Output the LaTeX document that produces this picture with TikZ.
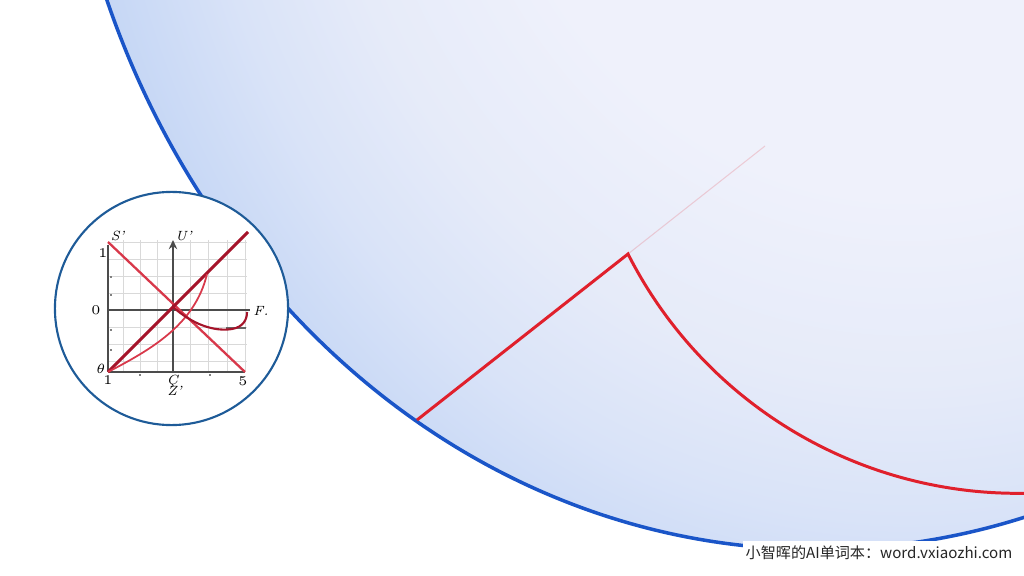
\RequirePackage{fix-cm}
\documentclass[tikz,border=0pt]{standalone}
\usepackage{fontspec}
\usepackage{tikz}
\usetikzlibrary{arrows.meta}
\newfontfamily\cjk{Noto Sans CJK SC}

\definecolor{glowin}{HTML}{EFF1FB}
\definecolor{glowmid}{HTML}{E6EBF9}
\definecolor{glowout}{HTML}{D9E3F8}
\definecolor{glowedge}{HTML}{C6D7F5}
\definecolor{rimblue}{HTML}{1A55C8}
\definecolor{lensrim}{HTML}{1E5B98}
\definecolor{arcred}{HTML}{E0202C}
\definecolor{plotred}{HTML}{D8384A}
\definecolor{plotdark}{HTML}{A5142A}
% path box is mapped on the 25bp radius; glow shape is 1.15x the disc
\pgfdeclareradialshading{bigglow}{\pgfpointorigin}{color(0bp)=(glowin); color(12.2bp)=(glowin); color(17bp)=(glowmid); color(20.5bp)=(glowout); color(24bp)=(glowedge); color(50bp)=(glowedge)}

\begin{document}
\begin{tikzpicture}[x=0.01cm,y=-0.01cm,
  rim/.style={draw=rimblue,line width=1pt},
  redline/.style={draw=arcred,line width=0.85pt},
  gridline/.style={gray!30,line width=0.2pt},
  axisline/.style={black!70,line width=0.4pt},
  lbl/.style={font=\fontsize{3.8}{4.5}\selectfont,inner sep=0pt}]
  % 1 unit = 1px of the 1024x576 frame, y downwards
  \useasboundingbox (0,0) rectangle (1024,576);
  \clip (0,0) rectangle (1024,576);
  \fill[white] (0,0) rectangle (1024,576);
  % big disc, glow pushed to the lower left rim
  \coordinate (BC) at (817,-307);
  \begin{scope}
    \clip (BC) ellipse [x radius=7.6cm,y radius=8.56cm];
    \shade[shading=bigglow] ([shift={(90,20)}]BC) ellipse [x radius=8.74cm,y radius=9.84cm];
  \end{scope}
  \draw[rim] (BC) ellipse [x radius=7.6cm,y radius=8.56cm];
  % the angle: chord, faint extension, arc
  \coordinate (V) at (628,254);
  \coordinate (P) at (417,420);
  \coordinate (Q) at (765,146);
  \coordinate (AC) at (1018,56);   % centre of the red arc
  \draw[arcred,opacity=0.18,line width=0.3pt] (V) -- (Q);
  \draw[redline,line join=miter] (P) -- (V) arc[start angle=153.1,end angle=80,radius=437];
  % inset lens with the little chart
  \coordinate (LC) at (171.5,308.5);
  \draw[draw=lensrim,fill=white,line width=0.6pt] (LC) circle[radius=1.165cm];
  \foreach \gx in {123,140,157,190,208,227,245} \draw[gridline] (\gx,240) -- (\gx,372);
  \foreach \gy in {242,259,276,293,327,344,361} \draw[gridline] (108,\gy) -- (247,\gy);
  \draw[axisline] (108,372) -- (108,245);
  \draw[axisline] (108,372) -- (245,372);
  \draw[axisline] (108,310) -- (250,310);
  \draw[axisline,-{Stealth[length=2.6pt,width=2.4pt]}] (173,373) -- (173,240);
  \foreach \ty in {277,295,330,350} \draw[black!50,line width=0.3pt] (110,\ty) -- (112,\ty);
  \foreach \tx in {140,210} \draw[black!50,line width=0.3pt] (\tx,374) -- (\tx,376);
  \draw[black!60,line width=0.3pt] (226,328) -- (246,328);
  \draw[plotred,line width=0.65pt] (108,242) -- (245,372);
  \draw[plotdark,line width=0.85pt] (108,372) -- (248,232);
  \draw[plotred,line width=0.5pt] (108,372) .. controls (150,350) and (195,325) .. (207,274);
  \draw[plotdark,line width=0.6pt] (173,307) .. controls (192,324) and (214,332) .. (232,329)
    .. controls (243,327) and (247,320) .. (247,312);
  \node[lbl] (sLbl) at (118,236) {\textit{S'}};
  \node[lbl] (uLbl) at (184,236) {\textit{U'}};
  \node[lbl] (oneL) at (103,253) {1};
  \node[lbl] (zeroL) at (96,310) {0};
  \node[lbl] (thL) at (101,369) {$\theta$};
  \node[lbl] (fL) at (261,311) {\textit{F.}};
  \node[lbl] (oneB) at (108,380) {1};
  \node[lbl] (cB) at (173,381) {\textit{\c{C}}};
  \node[lbl] (zB) at (175,391) {\textit{Z'}};
  \node[lbl] (fiveB) at (243,381) {5};
  % watermark strip
  \fill[white] (743,541) rectangle (1024,576);
  \node[font=\cjk\fontsize{4.3}{5}\selectfont,text=black!85,inner sep=0pt] (wm) at (879,553)
    {小智晖的AI单词本：word.vxiaozhi.com};
\end{tikzpicture}
\end{document}
